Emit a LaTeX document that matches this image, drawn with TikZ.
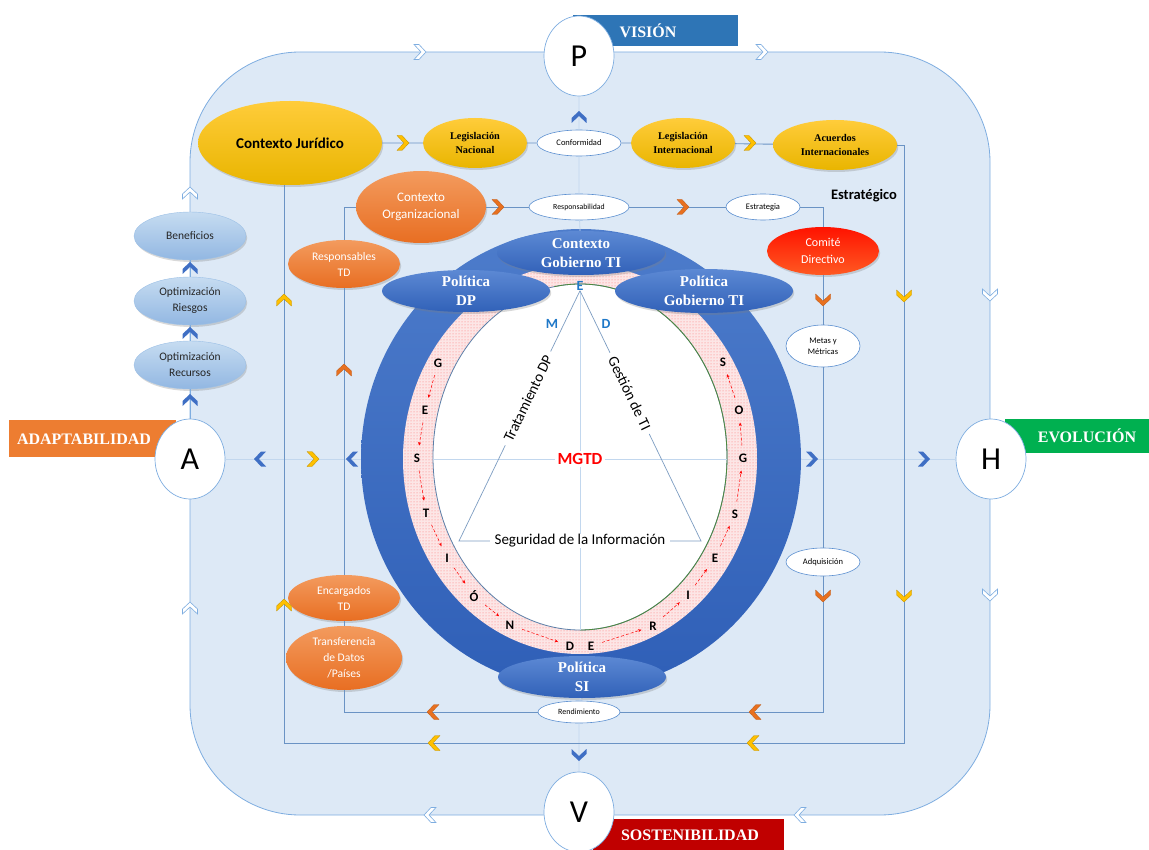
\documentclass[tikz,border=0pt]{standalone}
\usepackage{fontspec}
\setmainfont{Carlito}
\newfontfamily\tnr{Liberation Serif}
\usetikzlibrary{shapes.geometric,positioning,shadows,patterns,arrows.meta}

\definecolor{bgblue}{HTML}{DDE9F6}
\definecolor{rimblue}{HTML}{7EADE0}
\definecolor{wireblue}{HTML}{6A93C4}
\definecolor{faintblue}{HTML}{C2D7EE}
\definecolor{edgeblue}{HTML}{5B8FD0}
\definecolor{triblue}{HTML}{7D9DC2}
\definecolor{chevblue}{HTML}{3F6FC4}
\definecolor{chevgold}{HTML}{FFC000}
\definecolor{chevorg}{HTML}{E8701F}
\definecolor{goldtop}{HTML}{FFCC3A}
\definecolor{goldbot}{HTML}{E9B500}
\definecolor{orgtop}{HTML}{F39B5E}
\definecolor{orgbot}{HTML}{E86E22}
\definecolor{redtop}{HTML}{FF1200}
\definecolor{redbot}{HTML}{FF5A22}
\definecolor{skytop}{HTML}{C6DCF1}
\definecolor{skybot}{HTML}{92B7E2}
\definecolor{skyedge}{HTML}{9CC0E6}
\definecolor{navytop}{HTML}{5C89D4}
\definecolor{navybot}{HTML}{3161B8}
\definecolor{ringtop}{HTML}{4D7CCB}
\definecolor{ringbot}{HTML}{2F5FB7}
\definecolor{bandpink}{HTML}{FCE6E6}
\definecolor{coreedge}{HTML}{5C7FA8}
\definecolor{coregreen}{HTML}{4E8A3C}
\definecolor{markblue}{HTML}{1F78C8}
\definecolor{visblue}{HTML}{2E75B6}
\definecolor{adaporange}{HTML}{ED7D31}
\definecolor{evogreen}{HTML}{00B050}
\definecolor{sostred}{HTML}{C00000}

\newcommand{\fs}[2]{\fontsize{#1}{#2}\selectfont}

\begin{document}
\begin{tikzpicture}[x=1pt,y=-1pt,
  dims/.style 2 args={minimum width=#1,minimum height=#2},
  oval/.style={ellipse,inner sep=-20pt,align=center},
  softshadow/.style={drop shadow={opacity=.3,shadow xshift=1.2pt,shadow yshift=-2pt}},
  goldoval/.style={oval,softshadow,top color=goldtop,bottom color=goldbot,
    font=\tnr\bfseries\fs{10.3}{14}},
  orgoval/.style={oval,softshadow,top color=orgtop,bottom color=orgbot,
    text=white,font=\fs{11.6}{16}},
  redoval/.style={oval,softshadow,top color=redtop,bottom color=redbot,
    text=white,font=\fs{12}{17}},
  skyoval/.style={oval,softshadow,top color=skytop,bottom color=skybot,
    draw=skyedge,line width=.4pt,text=black!85,font=\fs{11.5}{16}},
  navyoval/.style={oval,softshadow,top color=navytop,bottom color=navybot,
    text=white,font=\tnr\bfseries\fs{15}{19}},
  whiteoval/.style={oval,fill=white,draw=edgeblue,line width=.6pt,
    font=\fs{8.5}{11}},
  portal/.style={ellipse,fill=white,draw=rimblue,line width=.7pt,
    dims={70}{80},inner sep=0pt,font=\fs{32}{36}},
  tagtext/.style={text=white,font=\tnr\bfseries\fs{16}{18}},
  rim/.style={draw=rimblue,line width=.8pt},
  wire/.style={draw=wireblue,line width=.9pt},
  faint/.style={draw=faintblue,line width=.8pt},
  triline/.style={draw=triblue,line width=.7pt},
  tritext/.style={fill=white,inner xsep=5pt,inner ysep=1pt,font=\fs{15}{17}},
  ringletter/.style={font=\bfseries\fs{13}{14},inner sep=1pt},
  ringmark/.style={text=markblue,font=\bfseries\fs{14}{15},inner sep=0pt},
  bandarrow/.style={red,densely dashed,line width=.5pt,
    -{Stealth[length=3.5pt,width=3pt]},shorten <=7pt,shorten >=7pt},
  pics/chev/.style={code={\path[#1] (-6,-7.5) -- (-1,-7.5) -- (6,0)
    -- (-1,7.5) -- (-6,7.5) -- (1,0) -- cycle;}},
  openchev/.style={fill=white,draw=rimblue,line width=.6pt},
  bluechev/.style={fill=chevblue},
  goldchev/.style={fill=chevgold,draw=chevgold!75!black,line width=.3pt},
  orgchev/.style={fill=chevorg,draw=chevorg!80!black,line width=.3pt}
]
\useasboundingbox (0,0) rectangle (1149,850);

% corner tags
\fill[visblue] (573,15) rectangle (738,46);
\node[tagtext] (vision) at (648,31) {VISIÓN};
\fill[adaporange] (9,420) rectangle (176,457);
\node[tagtext] (adapt) at (84,439) {ADAPTABILIDAD};
\fill[evogreen] (1005,419) rectangle (1149,453);
\node[tagtext] (evol) at (1087,436) {EVOLUCIÓN};
\fill[sostred] (593,819) rectangle (784,850);
\node[tagtext] (sost) at (690,835) {SOSTENIBILIDAD};

% outer frame
\draw[rim,fill=bgblue,rounded corners=110] (190,52) rectangle (990,815);

\node[portal] (p) at (579,56) {P};
\node[portal] (v) at (579,812) {V};
\node[portal] (a) at (190,459) {A};
\node[portal] (h) at (991,459) {H};

% central ring
\node[ellipse,top color=ringtop,bottom color=ringbot,dims={440}{460}] (ring) at (581,459) {};
\node[ellipse,preaction={fill=bandpink},pattern=dots,pattern color=red!55,
  dims={354}{390}] (band) at (580,459) {};
\node[ellipse,fill=white,draw=coreedge,line width=.8pt,dims={294}{346}] (core) at (580,457) {};
\draw[coregreen,line width=.8pt] (core.center) ++(-100:147 and 173)
  arc[start angle=-100,end angle=90,x radius=147,y radius=173];

\node[ringmark] (e) at (580,286) {E};
\node[ringmark] (m) at (552,324) {M};
\node[ringmark] (d) at (606,324) {D};
\node[text=red,font=\bfseries\fs{17}{18},inner sep=2pt] (mgtd) at (580,459) {MGTD};

\draw[faint] (core.west |- mgtd) -- (mgtd.west) (mgtd.east) -- (core.east |- mgtd);
\draw[faint] (e.south) -- (mgtd.north) (mgtd.south) -- (core.south);

\coordinate (bl) at (459,541);
\coordinate (br) at (701,541);
\draw[triline] (e.south) -- node[tritext,sloped,pos=.43] (trat) {Tratamiento DP}
  (bl) -- node[tritext] (seg) {Seguridad de la Información}
  (br) -- node[tritext,sloped,pos=.59] (gest) {Gestión de TI} (e.south);

% GESTION DE RIESGOS
\foreach \t/\x/\y [count=\i] in {G/438/363,E/425/410,S/417/458,T/426/513,
  I/447/558,Ó/474/596,N/510/625,D/570/646,E/591/646,R/653/626,I/688/595,
  E/715/558,S/735/514,G/743/458,O/739/410,S/723/362}
  \node[ringletter] (g\i) at (\x,\y) {\t};
\foreach \i/\j in {1/2,2/3,3/4,4/5,5/6,6/7,7/8,9/10,10/11,11/12,12/13,13/14,14/15,15/16}
  \draw[bandarrow] (g\i) -- (g\j);

\node[navyoval,dims={168}{44}] (cgti) at (581,253) {Contexto\\Gobierno TI};
\node[navyoval,dims={168}{42}] (pdp) at (466,291) {Política\\DP};
\node[navyoval,dims={178}{44}] (pgti) at (704,291) {Política\\Gobierno TI};
\node[navyoval,dims={168}{42}] (psi) at (582,677) {Política\\SI};

% left column
\node[skyoval,dims={112}{48}] (ben) at (190,236) {Beneficios};
\node[skyoval,dims={112}{48}] (oriesg) at (190,301) {Optimización\\Riesgos};
\node[skyoval,dims={112}{48}] (orec) at (190,365) {Optimización\\Recursos};

% legal context
\node[goldoval,dims={184}{84},font=\bfseries\fs{15}{17}] (cj) at (290,143) {Contexto Jurídico};
\node[goldoval,dims={104}{50}] (lnac) at (475,143) {Legislación\\Nacional};
\node[whiteoval,dims={84}{26}] (conf) at (579,143) {Conformidad};
\node[goldoval,dims={104}{50}] (lint) at (683,143) {Legislación\\Internacional};
\node[goldoval,dims={124}{50}] (acu) at (835,145) {Acuerdos\\Internacionales};

% organizational context
\node[orgoval,dims={130}{72},font=\fs{13}{17}] (corg) at (421,207) {Contexto\\Organizacional};
\node[whiteoval,dims={100}{26},font=\fs{7.8}{10}] (respo) at (579,207) {Responsabilidad};
\node[whiteoval,dims={74}{26}] (estr) at (763,207) {Estrategia};
\node[font=\bfseries\fs{14.5}{16}] (estrat) at (864,196) {Estratégico};
\node[redoval,dims={112}{48}] (comite) at (823,251) {Comité\\Directivo};
\node[whiteoval,dims={74}{42}] (metas) at (823,346) {Metas y\\Métricas};
\node[whiteoval,dims={74}{28}] (adq) at (823,562) {Adquisición};
\node[whiteoval,dims={82}{22},font=\fs{8}{10}] (rend) at (579,712) {Rendimiento};
\node[orgoval,dims={112}{48}] (resptd) at (344,264) {Responsables\\TD};
\node[orgoval,dims={112}{46}] (enctd) at (344,598) {Encargados\\TD};
\node[orgoval,dims={116}{64}] (transf) at (344,658) {Transferencia\\de Datos\\/Países};

% connectors
\draw[rim] (a) -- (orec) (orec) -- (oriesg) (oriesg) -- (ben);
\draw[faint] (p) -- (conf) (conf) -- (respo) (respo) -- (cgti);
\draw[faint] (psi) -- (rend) (rend) -- (v);
\draw[faint] (a) -- (a -| ring.west) (ring.east |- h) -- (h);

\coordinate (jr) at (904,743);
\coordinate (jl) at (284,743);
\draw[wire] (cj) -- (lnac) (lnac) -- (conf) (conf) -- (lint) (lint) -- (acu);
\draw[wire] (acu.east) -| (jr) -- (jl) -- (jl |- cj.south);

\draw[wire] (corg) -- (respo) (respo) -- (estr);
\draw[wire] (estr.east) -| (comite.north);
\draw[wire] (comite) -- (metas) (metas) -- (adq);
\draw[wire] (adq.south) |- (rend.east);
\draw[wire] (rend.west) -| (transf.south);
\draw[wire] (transf) -- (enctd) (enctd) -- (resptd);
\draw[wire] (resptd.north) |- (corg.west);

% chevrons
\foreach \x/\y/\r in {420/52/0,762/52/0,430/815/180,800/815/180,
  190/193/90,190/608/90,990/295/-90,990/595/-90}
  \pic[rotate=\r] at (\x,\y) {chev=openchev};
\foreach \x/\y/\r in {579/117/90,579/755/-90,190/268/90,190/333/90,190/400/90,
  260/459/180,352/459/180,812/459/0,924/459/0}
  \pic[rotate=\r] at (\x,\y) {chev=bluechev};
\foreach \x/\y/\r in {403/143/0,750/143/0,904/296/-90,904/596/-90,
  753/743/180,434/743/180,284/300/90,284/605/90,313/459/0}
  \pic[rotate=\r] at (\x,\y) {chev=goldchev};
\foreach \x/\y/\r in {498/207/0,683/207/0,823/300/-90,823/596/-90,
  755/712/180,433/712/180,344/370/90}
  \pic[rotate=\r] at (\x,\y) {chev=orgchev};
\end{tikzpicture}
\end{document}
